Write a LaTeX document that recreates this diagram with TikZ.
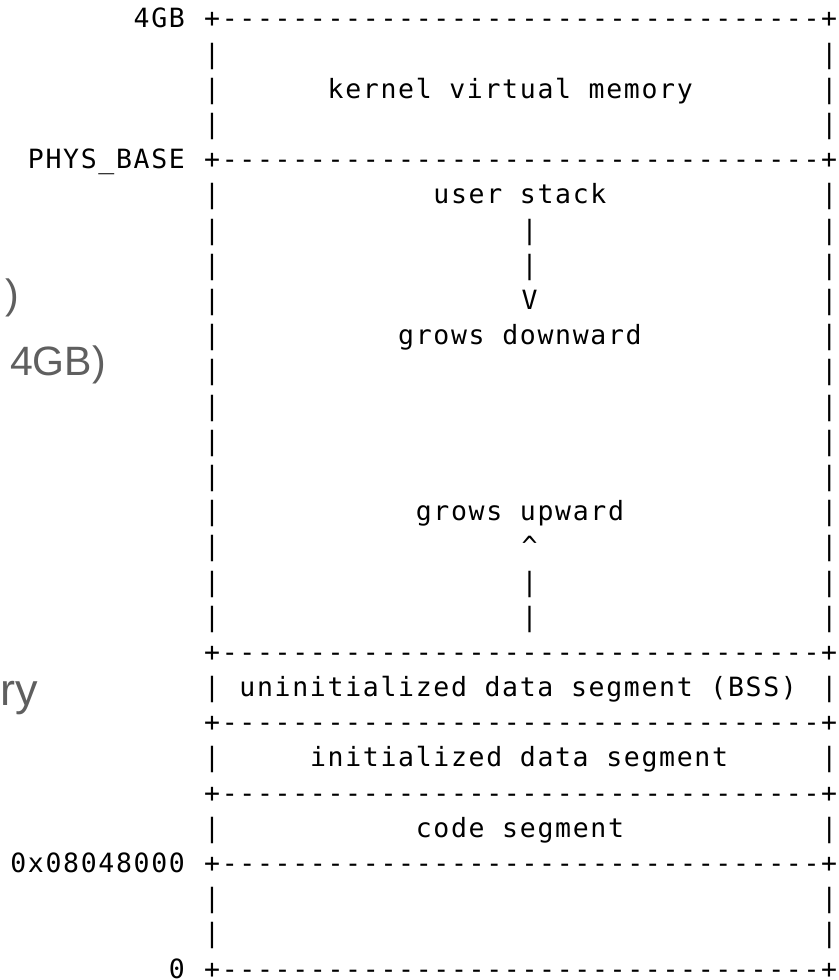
\documentclass[tikz,border=0pt]{standalone}
\usepackage{fontspec}
\setmonofont{DejaVu Sans Mono}[LetterSpace=6.32]
\newfontfamily\cutfont{Liberation Sans}
\usepackage{tikz}
\definecolor{cutgrey}{RGB}{95,95,95}

\begin{document}
\begin{tikzpicture}[x=17.63pt,y=-35.19pt,
        ascii/.style={font=\ttfamily\fontsize{26.5}{31}\selectfont,execute at begin node={\spaceskip=17.63pt\relax},anchor=base west,inner sep=0pt,outer sep=0pt},
        cut/.style={font=\cutfont\fontsize{41}{48}\selectfont,text=cutgrey,anchor=base west,inner sep=0pt}]
                        \useasboundingbox (-0.584,-0.795) rectangle (46.95,27.053);
                        \node[cut]                   (paren)    at (-0.30,7.97)  {)};
                        \node[cut]                   (fourgb)   at (-0.017,9.875) {4GB)};
                        \node[cut,font=\cutfont\fontsize{45}{52}\selectfont] (ry) at (-0.584,19.25) {ry};
                        \node[ascii]                 (lbl_top)  at (7,0)   {4GB};
                        \node[ascii]                 (b_top)    at (11,0)  {+----------------------------------+};
                        \node[ascii]                 (kernel)   at (18,2)  {kernel virtual memory};
                        \node[ascii]                 (lbl_phys) at (1,4)   {PHYS\_BASE};
                        \node[ascii]                 (b_phys)   at (11,4)  {+----------------------------------+};
                        \node[ascii]                 (stack)    at (24,5)  {user stack};
                        \node[ascii]                 (down_a)   at (29,6)  {|};
                        \node[ascii]                 (down_b)   at (29,7)  {|};
                        \node[ascii]                 (down_v)   at (29,8)  {V};
                        \node[ascii]                 (downward) at (22,9)  {grows downward};
                        \node[ascii]                 (upward)   at (23,14) {grows upward};
                        \node[ascii]                 (up_hat)   at (29,15) {\textasciicircum};
                        \node[ascii]                 (up_a)     at (29,16) {|};
                        \node[ascii]                 (up_b)     at (29,17) {|};
                        \node[ascii]                 (b_heap)   at (11,18) {+----------------------------------+};
                        \node[ascii]                 (bss)      at (13,19) {uninitialized data segment (BSS)};
                        \node[ascii]                 (b_bss)    at (11,20) {+----------------------------------+};
                        \node[ascii]                 (data)     at (17,21) {initialized data segment};
                        \node[ascii]                 (b_data)   at (11,22) {+----------------------------------+};
                        \node[ascii]                 (code)     at (23,23) {code segment};
                        \node[ascii]                 (lbl_code) at (0,24)  {0x08048000};
                        \node[ascii]                 (b_code)   at (11,24) {+----------------------------------+};
                        \node[ascii,text depth=0pt]  (lbl_zero) at (9,27)  {0};
                        \node[ascii,text depth=0pt]  (b_zero)   at (11,27) {+----------------------------------+};
                        \foreach \r in {1,2,3,5,6,...,17,19,21,23,25,26} {
                            \node[ascii]             (wl\r)     at (11,\r) {|};
                            \node[ascii]             (wr\r)     at (46,\r) {|};
                        }
                    \end{tikzpicture}
\end{document}
